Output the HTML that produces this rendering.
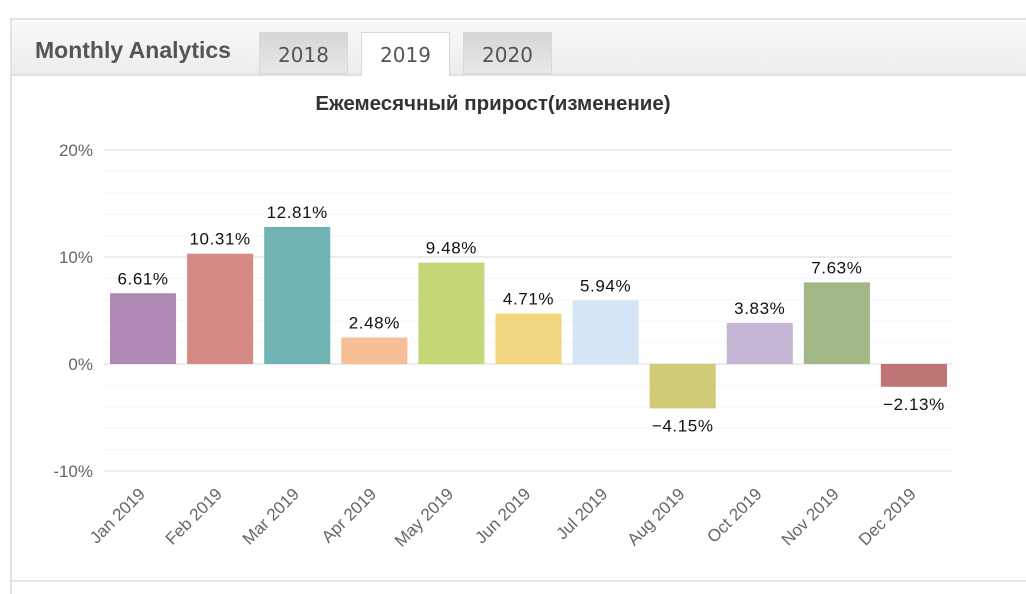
<!DOCTYPE html>
<html><head><meta charset="utf-8"><style>
html,body{margin:0;padding:0;background:#fff;width:1026px;height:594px;overflow:hidden;font-family:"Liberation Sans","Noto Sans CJK SC",sans-serif;position:relative}
#panel{position:absolute;left:10px;top:18px;width:1030px;height:590px;border:2px solid #e2e2e2;box-sizing:border-box}
#header{position:absolute;left:0;top:0;right:0;height:54px;background:linear-gradient(#fafafa,#ececec);border-bottom:2px solid #e0e0e0}
#title{position:absolute;left:23px;top:17px;font-weight:bold;font-size:23px;color:#555}
.tab{position:absolute;top:12px;width:89px;height:42px;background:linear-gradient(#d6d6d6,#e8e8e8);border:1px solid #d8d8d8;box-sizing:border-box;text-align:center;font-family:"DejaVu Sans",sans-serif;font-size:20px;line-height:44px;color:#555}
.tab.active{background:#fff;height:44px;border-bottom:none}
#bottom{position:absolute;left:0;right:0;top:560px;border-top:2px solid #e4e4e4}
svg{position:absolute;left:0;top:0}
</style></head><body>
<div id="panel">
 <div id="header">
  <div id="title">Monthly Analytics</div>
  <div class="tab" style="left:247px">2018</div>
  <div class="tab active" style="left:349px">2019</div>
  <div class="tab" style="left:451px">2020</div>
 </div>
 <div id="bottom"></div>
</div>
<svg id="chart" width="1026" height="594"></svg>
<script>
const categories=["Jan 2019","Feb 2019","Mar 2019","Apr 2019","May 2019","Jun 2019","Jul 2019","Aug 2019","Oct 2019","Nov 2019","Dec 2019"];
const values=[6.61,10.31,12.81,2.48,9.48,4.71,5.94,-4.15,3.83,7.63,-2.13];
const valueLabels=["6.61%","10.31%","12.81%","2.48%","9.48%","4.71%","5.94%","\u22124.15%","3.83%","7.63%","\u22122.13%"];
const colors=["#ae89b3","#d68a86","#70b3b3","#f6bf98","#c4d87a","#f1d67f","#d4e6f6","#d1cb78","#c5b6d6","#a3b787","#bf7573"];
const yTicks=[20,10,0,-10];
const yTickLabels=["20%","10%","0%","-10%"];
const yMin=-10,yMax=20;
const L=104,R=952,T=150,B=471;
const ns="http://www.w3.org/2000/svg";
const svg=document.getElementById('chart');
function y(v){return B-(v-yMin)/(yMax-yMin)*(B-T);}
const band=(R-L)/categories.length;
function x(i){return L+i*band;}
function mk(tag,attrs,parent){const e=document.createElementNS(ns,tag);for(const k in attrs)e.setAttribute(k,attrs[k]);(parent||svg).appendChild(e);return e;}
const t=mk('text',{x:493,y:110,'text-anchor':'middle','font-size':20.5,'font-weight':'bold',fill:'#333'});


t.textContent="Ежемесячный прирост(изменение)";
for(let v=yMin;v<=yMax;v+=2){
 const major=v%10===0;
 const g=mk('line',{x1:L,x2:R,y1:y(v),y2:y(v),stroke:major?'#e6e6e6':'#f5f5f5','stroke-width':major?1.5:1});
 
 
}
yTicks.forEach((v,i)=>{
 const e=mk('text',{x:93,y:y(v)+6,'text-anchor':'end','font-size':17,fill:'#666'});
 
 
 e.textContent=yTickLabels[i];
});
values.forEach((v,i)=>{
 const bx=x(i)+6,bw=band-11;
 const top=y(Math.max(v,0)),bot=y(Math.min(v,0));
 const r=mk('rect',{x:bx,y:top,width:bw,height:bot-top,fill:colors[i]});
 
 
 const cx=bx+bw/2;
 const lab=mk('text',{x:cx,y:v>=0?top-9:bot+23,'text-anchor':'middle','font-size':17,'letter-spacing':'0.6',fill:'#111'});
 
 
 lab.textContent=valueLabels[i];
 const xl=mk('text',{x:cx+3,y:495,'text-anchor':'end','font-size':17,fill:'#666',transform:`rotate(-45 ${cx+3} 495)`});
 
 
 xl.textContent=categories[i];
});
</script>
</body></html>
